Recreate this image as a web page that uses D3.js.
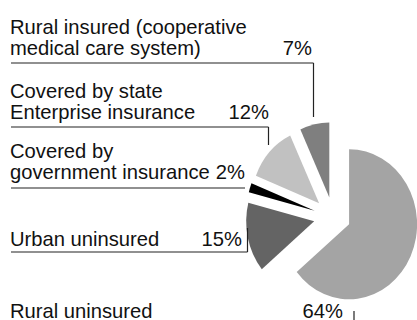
<!DOCTYPE html>
<html>
<head>
<meta charset="utf-8">
<script src="https://cdn.jsdelivr.net/npm/d3@7/dist/d3.min.js"></script>
<style>
  html, body { margin: 0; padding: 0; background: #fff; }
  svg { display: block; }
  text { font-family: "Liberation Sans", Arial, sans-serif; fill: #111; }
</style>
</head>
<body>
<svg id="chart" width="417" height="320"></svg>
<script>
// Health insurance coverage, share of population (%)
const categories = [
  "Rural uninsured",
  "Urban uninsured",
  "Covered by government insurance",
  "Covered by state Enterprise insurance",
  "Rural insured (cooperative medical care system)"
];
const shares = [64, 15, 2, 12, 7];
const labelLines = [
  ["Rural uninsured"],
  ["Urban uninsured"],
  ["Covered by", "government insurance"],
  ["Covered by state", "Enterprise insurance"],
  ["Rural insured (cooperative", "medical care system)"]
];
const percentLabels = shares.map(v => v + "%");

const W = 417, H = 320;
const svg = d3.select("#chart");

// slice fills, one per category
const color = d3.scaleOrdinal()
  .domain(categories)
  .range(["#a4a4a4", "#646464", "#000000", "#c1c1c1", "#7f7f7f"]);

// pie geometry: slightly tall ellipse, small slices pulled out
const cx = 333.7, cy = 217;
const rx = 68, ry = 75;
const explodeBig = 17, explodeSmall = 20;

const pie = d3.pie().sort(null).value(d => d.value);
const arcs = pie(categories.map((c, i) => ({ name: c, value: shares[i] })));
const arc = d3.arc().innerRadius(0).outerRadius(rx);

const pieG = svg.append("g");
pieG.selectAll("g.slice")
  .data(arcs)
  .join("g")
  .attr("class", "slice")
  .attr("transform", (d, i) => {
    const b = (d.startAngle + d.endAngle) / 2;
    const dist = i === 0 ? explodeBig : explodeSmall;
    const ox = cx + dist * Math.sin(b);
    const oy = cy - dist * Math.cos(b);
    return `translate(${ox},${oy}) scale(1,${ry / rx})`;
  })
  .append("path")
  .attr("d", arc)
  .attr("fill", d => color(d.data.name));

// label blocks: left-aligned names, right-aligned percentages, underline rules
const fontSize = 20.2;
const textX = 10;
const lineGap = 21;
// per block: last baseline, right edge of percentage, rule y, rule end x, leader line
const layout = [
  { base: 317.5, right: 343, rule: null, lead: { x: 354, y1: 311, y2: 320 } },
  { base: 245.5, right: 242, rule: 252, ruleEnd: 247.5, lead: { x: 247.5, y1: 252, y2: 228 } },
  { base: 178.5, right: 245, rule: 188, ruleEnd: 245, lead: null },
  { base: 118.5, right: 269, rule: 127, ruleEnd: 268.5, lead: { x: 268.5, y1: 127, y2: 145 } },
  { base: 55, right: 312, rule: 63, ruleEnd: 313.5, lead: { x: 313.5, y1: 63, y2: 117 } }
];

const labelG = svg.append("g");
layout.forEach((L, i) => {
  const lines = labelLines[i];
  lines.forEach((t, j) => {
    labelG.append("text")
      .attr("x", textX)
      .attr("y", L.base - (lines.length - 1 - j) * lineGap)
      .attr("font-size", fontSize)
      .text(t);
  });
  labelG.append("text")
    .attr("x", L.right)
    .attr("y", L.base)
    .attr("text-anchor", "end")
    .attr("font-size", fontSize)
    .text(percentLabels[i]);
  if (L.rule !== null) {
    labelG.append("line")
      .attr("x1", 11).attr("x2", L.ruleEnd)
      .attr("y1", L.rule).attr("y2", L.rule)
      .attr("stroke", "#222").attr("stroke-width", 1.2);
  }
  if (L.lead) {
    labelG.append("line")
      .attr("x1", L.lead.x).attr("x2", L.lead.x)
      .attr("y1", L.lead.y1).attr("y2", L.lead.y2)
      .attr("stroke", "#222").attr("stroke-width", 1.2);
  }
});
</script>
</body>
</html>
